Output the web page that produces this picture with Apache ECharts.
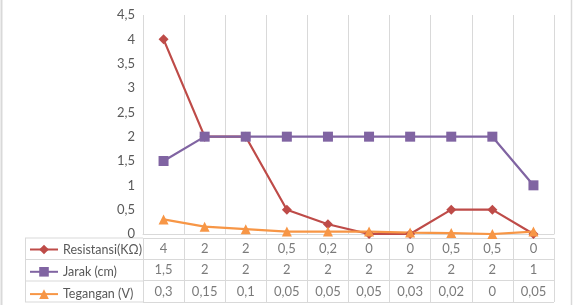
<!DOCTYPE html>
<html>
<head>
<meta charset="utf-8">
<script src="https://cdn.jsdelivr.net/npm/echarts@6/dist/echarts.min.js"></script>
<style>
  html, body { margin: 0; padding: 0; background: #fff; }
  #chart { width: 573px; height: 305px; }
</style>
</head>
<body>
<div id="chart"></div>
<script>
// data
var categories = ["1", "2", "3", "4", "5", "6", "7", "8", "9", "10"];
var seriesNames = ["Resistansi(KΩ)", "Jarak (cm)", "Tegangan (V)"];
var resistansi = [4, 2, 2, 0.5, 0.2, 0, 0, 0.5, 0.5, 0];
var jarak = [1.5, 2, 2, 2, 2, 2, 2, 2, 2, 1];
var tegangan = [0.3, 0.15, 0.1, 0.05, 0.05, 0.05, 0.03, 0.02, 0, 0.05];
var yTicks = [0, 0.5, 1, 1.5, 2, 2.5, 3, 3.5, 4, 4.5];

var colors = ["#BE4B48", "#8064A2", "#F79646"];
var gridColor = "#D9D9D9";
var textColor = "#595959";
var font = "Lato, 'Open Sans', sans-serif";

function comma(v) {
  return String(v).replace(".", ",");
}

// cells of the data table: [column, row]
var rows = [resistansi, jarak, tegangan];
var cells = [];
rows.forEach(function (row, r) {
  row.forEach(function (v, c) {
    cells.push({ value: [c, r], text: comma(v) });
  });
});

var chart = echarts.init(document.getElementById("chart"));
var option = {
  animation: false,
  color: colors,
  textStyle: { fontFamily: font },
  grid: [
    { left: 143, right: 19, top: 15, bottom: 71 },
    { left: 143, right: 19, top: 238, bottom: 3 }
  ],
  legend: {
    orient: "vertical",
    left: 29,
    top: 243,
    padding: 0,
    itemWidth: 28,
    itemHeight: 12,
    itemGap: 9.3,
    selectedMode: false,
    data: seriesNames,
    textStyle: { color: textColor, fontSize: 12.5, fontFamily: font }
  },
  xAxis: [
    {
      type: "category",
      gridIndex: 0,
      data: categories,
      boundaryGap: true,
      axisLine: { show: true, lineStyle: { color: gridColor } },
      axisTick: { show: false },
      axisLabel: { show: false },
      splitLine: { show: true, lineStyle: { color: gridColor } }
    },
    {
      type: "category",
      gridIndex: 1,
      data: categories,
      boundaryGap: true,
      axisLine: { show: false },
      axisTick: { show: false },
      axisLabel: { show: false },
      splitLine: { show: true, lineStyle: { color: gridColor } }
    }
  ],
  yAxis: [
    {
      type: "value",
      gridIndex: 0,
      min: 0,
      max: yTicks[yTicks.length - 1],
      interval: 0.5,
      axisLine: { show: false },
      axisTick: { show: false },
      splitLine: { show: false },
      axisLabel: {
        color: textColor,
        fontSize: 13,
        margin: 8,
        formatter: function (v) { return comma(v); }
      }
    },
    {
      type: "category",
      gridIndex: 1,
      data: seriesNames,
      inverse: true,
      boundaryGap: true,
      axisLine: { show: false },
      axisTick: { show: false },
      axisLabel: { show: false },
      splitLine: { show: true, lineStyle: { color: gridColor } }
    }
  ],
  graphic: [
    // legend column of the table
    { type: "line", shape: { x1: 25, y1: 238, x2: 143, y2: 238 }, style: { stroke: gridColor } },
    { type: "line", shape: { x1: 25, y1: 259.5, x2: 143, y2: 259.5 }, style: { stroke: gridColor } },
    { type: "line", shape: { x1: 25, y1: 281, x2: 143, y2: 281 }, style: { stroke: gridColor } },
    { type: "line", shape: { x1: 25, y1: 302, x2: 143, y2: 302 }, style: { stroke: gridColor } },
    { type: "line", shape: { x1: 25.5, y1: 238, x2: 25.5, y2: 302 }, style: { stroke: gridColor } },
    // outer frame
    { type: "line", shape: { x1: 1.5, y1: 0, x2: 1.5, y2: 305 }, style: { stroke: gridColor, lineWidth: 2 } },
    { type: "line", shape: { x1: 571.5, y1: 0, x2: 571.5, y2: 305 }, style: { stroke: gridColor, lineWidth: 1.5 } }
  ],
  series: [
    {
      name: seriesNames[0],
      type: "line",
      data: resistansi,
      symbol: "diamond",
      symbolSize: 10,
      lineStyle: { width: 2.2 },
      itemStyle: { color: colors[0] }
    },
    {
      name: seriesNames[1],
      type: "line",
      data: jarak,
      symbol: "rect",
      symbolSize: 10,
      lineStyle: { width: 2.2 },
      itemStyle: { color: colors[1] }
    },
    {
      name: seriesNames[2],
      type: "line",
      data: tegangan,
      symbol: "triangle",
      symbolSize: 10,
      lineStyle: { width: 2.2 },
      itemStyle: { color: colors[2] }
    },
    {
      // text of the data table
      type: "scatter",
      xAxisIndex: 1,
      yAxisIndex: 1,
      data: cells,
      symbolSize: 1,
      itemStyle: { color: "transparent" },
      silent: true,
      label: {
        show: true,
        position: "inside",
        color: textColor,
        fontSize: 13,
        fontFamily: font,
        formatter: function (p) { return p.data.text; }
      }
    }
  ]
};
chart.setOption(option);
</script>
</body>
</html>
